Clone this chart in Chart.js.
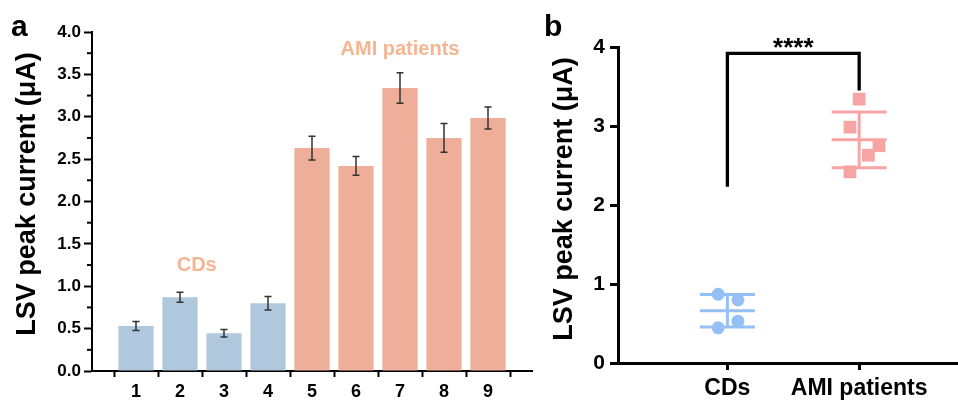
<!DOCTYPE html>
<html>
<head>
<meta charset="utf-8">
<script src="https://cdn.jsdelivr.net/npm/chart.js@4.4.1/dist/chart.umd.min.js"></script>
<style>
  body { margin: 0; background: #fff; }
  #wrap { position: relative; width: 958px; height: 402px; overflow: hidden; }
  #chartA { position: absolute; left: 0; top: 0; }
  #chartB { position: absolute; left: 530px; top: 0; }
</style>
</head>
<body>
<div id="wrap">
  <canvas id="chartA" width="540" height="402"></canvas>
  <canvas id="chartB" width="428" height="402"></canvas>
</div>
<script>
// Data (panel a)
const sampleIds = [1, 2, 3, 4, 5, 6, 7, 8, 9];
const peakCurrent = [0.53, 0.87, 0.445, 0.80, 2.63, 2.42, 3.34, 2.75, 2.985];
const peakError = [0.053, 0.06, 0.045, 0.08, 0.14, 0.11, 0.18, 0.17, 0.13];
const groupOf = ['CDs', 'CDs', 'CDs', 'CDs', 'AMI', 'AMI', 'AMI', 'AMI', 'AMI'];

// Data (panel b)
const groupNames = ['CDs', 'AMI patients'];
const cdsValues = [0.53, 0.87, 0.445, 0.80];
const cdsJitter = [0.08, -0.07, -0.07, 0.08];
const amiValues = [2.63, 2.42, 3.34, 2.75, 2.985];
const amiJitter = [0.07, -0.07, 0.0, 0.15, -0.07];

const yTitle = 'LSV peak current (μA)';

const FONT = '"Liberation Sans", Arial, sans-serif';
const BLUE_BAR = '#afc8de';
const ORANGE_BAR = '#eeae9a';
const LABEL_ORANGE = '#f5b592';
const BLUE_PT = '#95c0f5';
const PINK_PT = '#f7a4a4';

function mean(arr) {
    return arr.reduce((a, b) => a + b, 0) / arr.length;
}
function sd(arr) {
    let m = mean(arr);
    return Math.sqrt(arr.reduce((a, b) => a + (b - m) * (b - m), 0) / (arr.length - 1));
}

// rotated axis title, centred at (x, y)
function drawYTitle(ctx, x, y) {
    ctx.save();
    ctx.translate(x, y);
    ctx.rotate(-Math.PI / 2);
    ctx.fillStyle = '#000';
    ctx.font = 'bold 27px ' + FONT;
    ctx.textAlign = 'center';
    ctx.textBaseline = 'middle';
    ctx.fillText(yTitle, 0, 0);
    ctx.restore();
}

// error bars, minor ticks and labels for panel a
const panelAPlugin = {
    id: 'panelA',
    afterDatasetsDraw(chart) {
        let ctx = chart.ctx;
        let xs = chart.scales.x, ys = chart.scales.y;
        ctx.save();
        ctx.strokeStyle = '#333';
        ctx.lineWidth = 1.5;
        sampleIds.forEach((id, i) => {
            let x = xs.getPixelForValue(id);
            let top = ys.getPixelForValue(peakCurrent[i] + peakError[i]);
            let bot = ys.getPixelForValue(peakCurrent[i] - peakError[i]);
            ctx.beginPath();
            ctx.moveTo(x, top); ctx.lineTo(x, bot);
            ctx.moveTo(x - 3.5, top); ctx.lineTo(x + 3.5, top);
            ctx.moveTo(x - 3.5, bot); ctx.lineTo(x + 3.5, bot);
            ctx.stroke();
        });
        // minor ticks on y
        ctx.strokeStyle = '#000';
        ctx.lineWidth = 2;
        for (let v = 0.25; v < 4; v += 0.5) {
            let y = ys.getPixelForValue(v);
            ctx.beginPath();
            ctx.moveTo(xs.left - 5, y); ctx.lineTo(xs.left, y);
            ctx.stroke();
        }
        // group labels
        ctx.fillStyle = LABEL_ORANGE;
        ctx.font = 'bold 20px ' + FONT;
        ctx.textAlign = 'center';
        ctx.textBaseline = 'middle';
        ctx.fillText('CDs', xs.getPixelForValue(2.38), ys.getPixelForValue(1.25));
        ctx.fillText('AMI patients', xs.getPixelForValue(7.0), ys.getPixelForValue(3.79));
        // panel letter
        ctx.fillStyle = '#000';
        ctx.font = 'bold 30px ' + FONT;
        ctx.textAlign = 'left';
        ctx.textBaseline = 'alphabetic';
        ctx.fillText('a', 11, 36);
        ctx.restore();
        drawYTitle(ctx, 28, 194);
    }
};

new Chart(document.getElementById('chartA'), {
    type: 'bar',
    data: {
        datasets: [{
            data: sampleIds.map((id, i) => ({ x: id, y: peakCurrent[i] })),
            backgroundColor: groupOf.map(g => g === 'CDs' ? BLUE_BAR : ORANGE_BAR),
            barPercentage: 0.8,
            categoryPercentage: 1.0
        }]
    },
    options: {
        responsive: false,
        animation: false,
        layout: { autoPadding: false, padding: { top: 32, right: 8, left: 0, bottom: 0 } },
        plugins: { legend: { display: false }, tooltip: { enabled: false } },
        scales: {
            x: {
                type: 'linear',
                offset: false,
                min: 0, max: 10,
                afterBuildTicks: s => { s.ticks = [0, 1, 2, 3, 4, 5, 6, 7, 8, 9, 10].map(v => ({ value: v })); },
                afterFit: s => { s.height = 31; },
                grid: { drawOnChartArea: false, tickLength: 6, tickWidth: 2, tickColor: '#000' },
                border: { display: true, color: '#000', width: 2 },
                ticks: {
                    padding: 4,
                    color: '#000',
                    font: { family: FONT, size: 18, weight: 'bold' },
                    callback: v => (v >= 1 && v <= 9) ? String(v) : ''
                }
            },
            y: {
                min: 0, max: 4,
                afterFit: s => { s.width = 92; },
                grid: { drawOnChartArea: false, tickLength: 8, tickWidth: 2, tickColor: '#000' },
                border: { display: true, color: '#000', width: 2 },
                ticks: {
                    stepSize: 0.5,
                    padding: 3,
                    color: '#000',
                    font: { family: FONT, size: 17, weight: 'bold' },
                    callback: v => v.toFixed(1)
                }
            }
        }
    },
    plugins: [panelAPlugin]
});

// mean +/- SD lines and significance bracket for panel b
const panelBPlugin = {
    id: 'panelB',
    beforeDatasetsDraw(chart) {
        let ctx = chart.ctx;
        let xs = chart.scales.x, ys = chart.scales.y;
        ctx.save();
        ctx.lineWidth = 3;
        [[cdsValues, 0, BLUE_PT], [amiValues, 1, PINK_PT]].forEach(([vals, cx, col]) => {
            let m = mean(vals), s = sd(vals);
            let x = xs.getPixelForValue(cx);
            let half = 27.5;
            ctx.strokeStyle = col;
            ctx.beginPath();
            [m + s, m, m - s].forEach(v => {
                let y = ys.getPixelForValue(v);
                ctx.moveTo(x - half, y); ctx.lineTo(x + half, y);
            });
            ctx.moveTo(x, ys.getPixelForValue(m + s));
            ctx.lineTo(x, ys.getPixelForValue(m - s));
            ctx.stroke();
        });
        ctx.restore();
    },
    afterDraw(chart) {
        let ctx = chart.ctx;
        let xs = chart.scales.x, ys = chart.scales.y;
        ctx.save();
        ctx.strokeStyle = '#000';
        ctx.lineWidth = 3.3;
        ctx.beginPath();
        ctx.moveTo(xs.getPixelForValue(0), ys.getPixelForValue(2.23));
        ctx.lineTo(xs.getPixelForValue(0), ys.getPixelForValue(3.92));
        ctx.lineTo(xs.getPixelForValue(1), ys.getPixelForValue(3.92));
        ctx.lineTo(xs.getPixelForValue(1), ys.getPixelForValue(3.45));
        ctx.stroke();
        ctx.fillStyle = '#000';
        ctx.font = 'bold 26px ' + FONT;
        ctx.textAlign = 'center';
        ctx.textBaseline = 'alphabetic';
        ctx.fillText('****', xs.getPixelForValue(0.5), 56);
        ctx.font = 'bold 30px ' + FONT;
        ctx.textAlign = 'left';
        ctx.fillText('b', 14, 36);
        ctx.restore();
        drawYTitle(ctx, 35, 199);
    }
};

new Chart(document.getElementById('chartB'), {
    type: 'scatter',
    data: {
        datasets: [{
            data: cdsValues.map((v, i) => ({ x: cdsJitter[i], y: v })),
            pointStyle: 'circle',
            pointRadius: 6.5,
            backgroundColor: BLUE_PT,
            borderWidth: 0
        }, {
            data: amiValues.map((v, i) => ({ x: 1 + amiJitter[i], y: v })),
            pointStyle: 'rect',
            pointRadius: 9,
            backgroundColor: PINK_PT,
            borderWidth: 0
        }]
    },
    options: {
        responsive: false,
        animation: false,
        layout: { autoPadding: false, padding: { top: 47, right: 0, left: 0, bottom: 0 } },
        plugins: { legend: { display: false }, tooltip: { enabled: false } },
        scales: {
            x: {
                type: 'linear',
                min: -0.83, max: 1.75,
                afterBuildTicks: s => { s.ticks = [{ value: 0 }, { value: 1 }]; },
                afterFit: s => { s.height = 39; },
                grid: { drawOnChartArea: false, tickLength: 7, tickWidth: 3, tickColor: '#000' },
                border: { display: true, color: '#000', width: 3 },
                ticks: {
                    padding: 5,
                    color: '#000',
                    font: { family: FONT, size: 23, weight: 'bold' },
                    callback: v => groupNames[v] || ''
                }
            },
            y: {
                min: 0, max: 4,
                afterFit: s => { s.width = 88; },
                grid: { drawOnChartArea: false, tickLength: 8, tickWidth: 3, tickColor: '#000' },
                border: { display: true, color: '#000', width: 3 },
                ticks: {
                    stepSize: 1,
                    padding: 5,
                    color: '#000',
                    font: { family: FONT, size: 21, weight: 'bold' }
                }
            }
        }
    },
    plugins: [panelBPlugin]
});
</script>
</body>
</html>
